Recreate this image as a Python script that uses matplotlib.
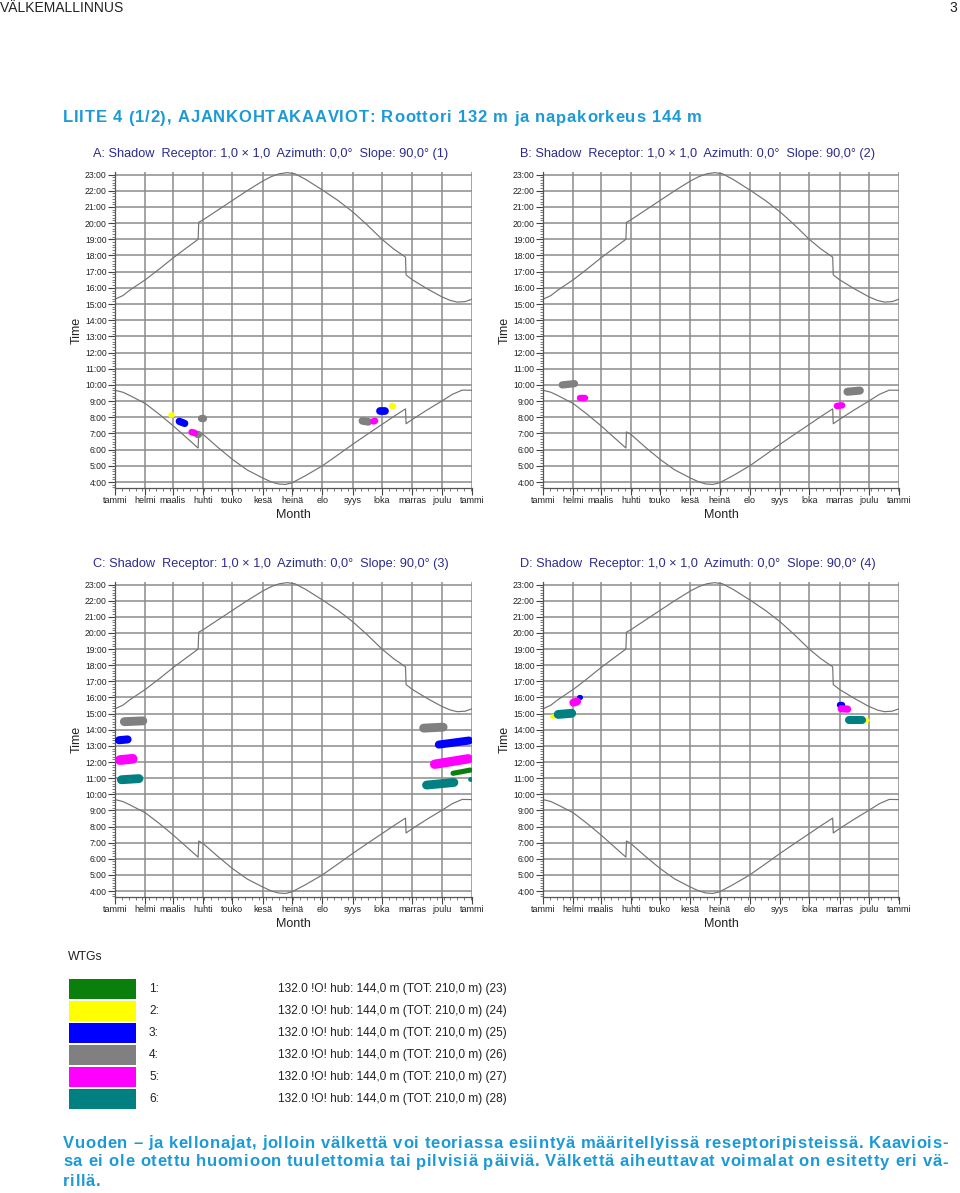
import matplotlib
matplotlib.use("Agg")
import matplotlib.pyplot as plt
from matplotlib.patches import Rectangle
from matplotlib.ticker import FixedLocator, MultipleLocator
from matplotlib.font_manager import FontProperties, findfont, get_font

W, H = 960, 1193
FONT = ["Liberation Sans", "DejaVu Sans"]
NARROW = ["Liberation Sans Narrow", "Liberation Sans", "DejaVu Sans"]
plt.rcParams["font.family"] = FONT
plt.rcParams["path.simplify"] = False

MONTHS = ["tammi", "helmi", "maalis", "huhti", "touko", "kesä", "heinä",
          "elo", "syys", "loka", "marras", "joulu", "tammi"]
MONTH_START = [0, 31, 59, 90, 120, 151, 181, 212, 243, 273, 304, 334, 365]
HOUR_TICKS = list(range(4, 24))

# sunset / sunrise (day of year, decimal hours)
SUNSET_DAY = [0, 8, 15, 31, 45, 59, 72, 85, 85.6, 90, 105, 120, 135, 151, 160, 168,
              176, 184, 195, 212, 228, 243, 258, 273, 285, 297, 297.6, 304, 319,
              334, 343, 350, 358, 365]
SUNSET = [15.3, 15.52, 15.85, 16.5, 17.15, 17.83, 18.42, 19.0, 20.05, 20.2, 20.8, 21.4,
          22.0, 22.6, 22.88, 23.05, 23.12, 23.05, 22.7, 22.05, 21.4, 20.7, 19.88,
          19.0, 18.4, 17.9, 16.8, 16.5, 15.95, 15.45, 15.22, 15.12, 15.15, 15.3]
SUNRISE_DAY = [0, 8, 15, 31, 45, 59, 72, 85, 85.6, 90, 105, 120, 135, 151, 160, 167,
               174, 181, 195, 212, 228, 243, 258, 273, 285, 297, 297.6, 304, 319,
               334, 345, 355, 365]
SUNRISE = [9.67, 9.55, 9.35, 8.85, 8.2, 7.5, 6.8, 6.1, 7.1, 6.95, 6.15, 5.4, 4.75,
           4.25, 4.0, 3.88, 3.85, 3.95, 4.4, 5.0, 5.68, 6.33, 6.95, 7.56, 8.05, 8.52,
           7.6, 7.87, 8.45, 9.0, 9.42, 9.68, 9.67]

WTG_ID = [1, 2, 3, 4, 5, 6]
WTG_COLOR = ["#0b7f0b", "#ffff00", "#0000ff", "#808080", "#ff00ff", "#008080"]
WTG_TEXT = ["132.0 !O! hub: 144,0 m (TOT: 210,0 m) (23)",
            "132.0 !O! hub: 144,0 m (TOT: 210,0 m) (24)",
            "132.0 !O! hub: 144,0 m (TOT: 210,0 m) (25)",
            "132.0 !O! hub: 144,0 m (TOT: 210,0 m) (26)",
            "132.0 !O! hub: 144,0 m (TOT: 210,0 m) (27)",
            "132.0 !O! hub: 144,0 m (TOT: 210,0 m) (28)"]

RECEPTORS = ["A", "B", "C", "D"]

# shadow windows: turbine, first day, last day, time at start, time at end, duration (h)
SHADOW_A = [(2, 55, 61, 8.13, 8.13, 0.35), (3, 62, 75, 7.75, 7.62, 0.45),
            (4, 81, 88, 6.95, 6.95, 0.45), (5, 75, 85, 7.08, 7.03, 0.42),
            (4, 86, 92, 7.95, 7.95, 0.45), (4, 249, 263, 7.78, 7.72, 0.48),
            (5, 261, 269, 7.75, 7.78, 0.42), (3, 267, 280, 8.4, 8.4, 0.48),
            (2, 280, 287, 8.7, 8.7, 0.4)]
SHADOW_B = [(4, 16, 36, 10.0, 10.08, 0.45), (5, 35, 46, 9.2, 9.2, 0.4),
            (5, 298, 310, 8.7, 8.74, 0.4), (4, 308, 329, 9.58, 9.65, 0.5)]
SHADOW_C = [(4, 5, 33, 14.5, 14.55, 0.55), (3, 0, 17, 13.35, 13.4, 0.5),
            (5, 0, 23, 12.12, 12.2, 0.6), (6, 2, 29, 10.9, 10.97, 0.55),
            (4, 311, 340, 14.1, 14.16, 0.55), (3, 327, 366, 13.08, 13.33, 0.5),
            (5, 322, 366, 11.86, 12.2, 0.58), (1, 343, 366, 11.3, 11.5, 0.32),
            (6, 314, 351, 10.57, 10.73, 0.55), (6, 361, 366, 10.93, 10.93, 0.3)]
SHADOW_D = [(2, 8, 12, 14.87, 14.87, 0.3), (6, 11, 34, 14.95, 15.02, 0.55),
            (5, 27, 39, 15.68, 15.75, 0.5), (3, 34, 41, 16.05, 16.05, 0.32),
            (3, 301, 310, 15.55, 15.55, 0.4), (5, 302, 316, 15.3, 15.28, 0.45),
            (6, 310, 331, 14.58, 14.58, 0.5), (2, 329, 333, 14.6, 14.6, 0.28)]
SHADOWS = [SHADOW_A, SHADOW_B, SHADOW_C, SHADOW_D]

# axes boxes in pixels: left, top, right, bottom
BOXES = [(115, 172, 472, 488), (543, 172, 899, 488),
         (115, 582, 472, 897), (543, 582, 899, 897)]
TITLE_POS = [(93, 154), (520, 154), (93, 564), (520, 564)]
YLIM = (3.63, 23.16)

GRID = "#8c8c8c"
CURVE = "#737373"
NAVY = "#2b2b8c"
CYAN = "#1c9ad6"

FOOTER = ["Vuoden – ja kellonajat, jolloin välkettä voi teoriassa esiintyä määritellyissä reseptoripisteissä. Kaaviois-",
          "sa ei ole otettu huomioon tuulettomia tai pilvisiä päiviä. Välkettä aiheuttavat voimalat on esitetty eri vä-",
          "rillä."]
HEADING = "LIITE 4 (1/2), AJANKOHTAKAAVIOT: Roottori 132 m ja napakorkeus 144 m"


def fx(x):
    return x / W


def fy(y):
    return 1 - y / H


def advances(s, size, weight, family):
    font = get_font(findfont(FontProperties(family=family, weight=weight, size=size)))
    font.set_size(size, 100)
    return [font.load_char(ord(c)).linearHoriAdvance / 65536 for c in s]


def tracked_text(fig, x, y, s, size, weight, family, color, target=None, track=0.0):
    adv = advances(s, size, weight, family)
    if target is not None and len(s) > 1:
        track = (target - sum(adv)) / (len(s) - 1)
    for c, a in zip(s, adv):
        if c != " ":
            fig.text(fx(x), fy(y), c, fontsize=size, weight=weight, family=family,
                     color=color, ha="left", va="center")
        x += a + track
    return track


fig = plt.figure(figsize=(W / 100, H / 100), dpi=100)

for i, (box, letter) in enumerate(zip(BOXES, RECEPTORS)):
    l, t, r, b = box
    ax = fig.add_axes([fx(l), fy(b), (r - l) / W, (b - t) / H])
    ax.set_xlim(0, 365)
    ax.set_ylim(*YLIM)
    ax.set_axisbelow(True)

    ax.xaxis.set_major_locator(FixedLocator(MONTH_START))
    ax.set_xticklabels(MONTHS)
    ax.xaxis.set_minor_locator(MultipleLocator(7))
    ax.yaxis.set_major_locator(FixedLocator(HOUR_TICKS))
    ax.set_yticklabels([f"{h}:00" for h in HOUR_TICKS])
    ax.yaxis.set_minor_locator(MultipleLocator(1 / 6))
    ax.grid(True, which="major", color=GRID, lw=1.1)

    ax.tick_params(axis="both", which="major", length=5, width=0.8,
                   color="#444444", pad=1, labelcolor="#222222")
    ax.tick_params(axis="both", which="minor", length=2.5, width=0.6,
                   color="#666666")
    ax.tick_params(axis="y", labelsize=6.2)
    ax.tick_params(axis="x", labelsize=6.5)
    for s in ("top", "right"):
        ax.spines[s].set_visible(False)
    for s in ("left", "bottom"):
        ax.spines[s].set_color("#555555")
        ax.spines[s].set_linewidth(0.9)

    ax.plot(SUNSET_DAY, SUNSET, color=CURVE, lw=0.85, zorder=2)
    ax.plot(SUNRISE_DAY, SUNRISE, color=CURVE, lw=0.85, zorder=2)

    px_per_hour = (b - t) / (YLIM[1] - YLIM[0])
    days_per_px = 365 / (r - l)
    for wtg, d0, d1, t0, t1, dur in sorted(SHADOWS[i], key=lambda s: s[0]):
        lw_px = dur * px_per_hour
        cap = lw_px / 2 * days_per_px
        a, z = d0 + cap, d1 - cap
        if z - a < 1.5:
            mid = (d0 + d1) / 2
            a, z = mid - 0.75, mid + 0.75
        ax.plot([a, z], [t0, t1], color=WTG_COLOR[wtg - 1], lw=lw_px * 0.72,
                solid_capstyle="round", zorder=3)

    ax.set_xlabel("Month", fontsize=9, color="#222222")
    ax.set_ylabel("Time", fontsize=9, color="#222222")
    ax.xaxis.label.set_va("center")
    ax.xaxis.set_label_coords(0.5, -27 / (b - t))
    ax.yaxis.label.set_va("center")
    ax.yaxis.set_label_coords(-38 / (r - l), 0.5)

    tx, ty = TITLE_POS[i]
    fig.text(fx(tx), fy(ty),
             f"{letter}: Shadow  Receptor: 1,0 × 1,0  Azimuth: 0,0°  Slope: 90,0° ({i + 1})",
             fontsize=9.15, color=NAVY, ha="left", va="center")

# page header
fig.text(fx(0), fy(8), "VÄLKEMALLINNUS", fontsize=10, family=NARROW,
         color="#222222", ha="left", va="center")
fig.text(fx(957), fy(8), "3", fontsize=10, family=NARROW, color="#222222",
         ha="right", va="center")
tracked_text(fig, 63, 118, HEADING, 12, "bold", NARROW, CYAN, target=639)

# legend
fig.text(fx(68), fy(957), "WTGs", fontsize=8.8, color="#222222", ha="left", va="center")
lax = fig.add_axes([0, 0, 1, 1], zorder=-1)
lax.set_xlim(0, W)
lax.set_ylim(H, 0)
lax.axis("off")
for k, (wid, col, txt) in enumerate(zip(WTG_ID, WTG_COLOR, WTG_TEXT)):
    yc = 989 + k * 22
    lax.add_patch(Rectangle((69, yc - 10), 67, 20, facecolor=col, edgecolor="none"))
    lax.text(149, yc, f"{wid}:", fontsize=8.6, color="#222222", ha="left", va="center")
    lax.text(278, yc, txt, fontsize=8.6, color="#222222", ha="left", va="center")

# footer, justified like the page text
trk = 0.0
for k, line in enumerate(FOOTER):
    if k < len(FOOTER) - 1:
        trk = tracked_text(fig, 63, 1143 + k * 19, line, 12, "bold", NARROW, CYAN, target=885)
    else:
        tracked_text(fig, 63, 1143 + k * 19, line, 12, "bold", NARROW, CYAN, track=trk)

fig.savefig("out.png", dpi=100)
